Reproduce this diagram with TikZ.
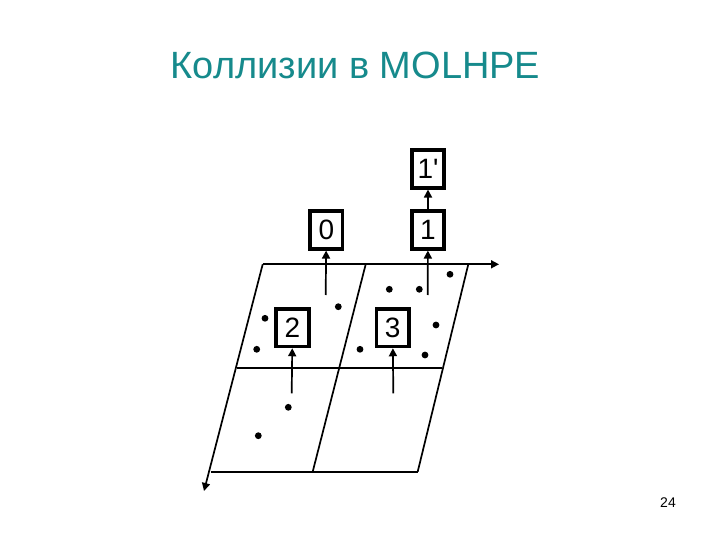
\documentclass[tikz,border=0pt]{standalone}
\usepackage{fontspec}
\setmainfont{Liberation Sans}
\usetikzlibrary{arrows.meta}
\definecolor{titleteal}{RGB}{22,138,140}
\begin{document}
\begin{tikzpicture}[x=1pt,y=-1pt,
  box/.style={draw, line width=3.6pt, minimum width=32.5pt, minimum height=37.5pt, inner sep=0pt, font=\fontsize{28}{28}\selectfont},
  dot/.style={circle, fill, inner sep=0pt, minimum size=6.8pt},
  grid/.style={line width=1.7pt},
  arr/.style={line width=1.7pt, -{Triangle[length=8pt,width=8pt]}}]
\useasboundingbox (0,0) rectangle (720,540);
\node[text=titleteal, font=\fontsize{38}{38}\selectfont] (title) at (355.5,65){Коллизии в MOLHPE};
\node[font=\fontsize{14}{14}\selectfont] (page) at (668,503){24};
% grid corners
\coordinate (tl) at (262.7,264.3);
\coordinate (tm) at (365.7,264.3);
\coordinate (tr) at (468.3,264.3);
\coordinate (xend) at (499,264.3);
\coordinate (ml) at (236.7,368.3);
\coordinate (mm) at (339,368.3);
\coordinate (mr) at (442.3,368.3);
\coordinate (bl) at (210.7,471.7);
\coordinate (bm) at (312.7,471.7);
\coordinate (br) at (417.7,471.7);
\coordinate (yend) at (204,491);
\draw[arr] (tl) -- (xend);
\draw[arr] (tl) -- (yend);
\draw[grid] (ml) -- (mr);
\draw[grid] (bl) -- (br);
\draw[grid] (tm) -- (bm);
\draw[grid] (tr) -- (br);
% boxes
\node[box] (box0) at (326.3,230){0};
\node[box] (box1) at (428,230){1};
\node[box] (box1p) at (428,169){1\textquotesingle};
\node[box] (box2) at (292.5,327.7){2};
\node[box] (box3) at (392.7,327.7){3};
% arrow tails
\coordinate (from0) at (325.7,295);
\coordinate (from1) at (427.7,295);
\coordinate (from2) at (291.7,393.3);
\coordinate (from3) at (393.3,393.3);
\draw[arr] (from0) -- (box0);
\draw[arr] (from1) -- (box1);
\draw[arr] (box1) -- (box1p);
\draw[arr] (from2) -- (box2);
\draw[arr] (from3) -- (box3);
% dots
\node[dot] (d1) at (450,274.3){};
\node[dot] (d2) at (389.3,289.3){};
\node[dot] (d3) at (419.3,289.3){};
\node[dot] (d4) at (338.3,306.7){};
\node[dot] (d5) at (265,318.3){};
\node[dot] (d6) at (436,325){};
\node[dot] (d7) at (256.7,349.3){};
\node[dot] (d8) at (360,349.3){};
\node[dot] (d9) at (425,355){};
\node[dot] (d10) at (288.3,407.3){};
\node[dot] (d11) at (258.3,435.7){};
\end{tikzpicture}
\end{document}
